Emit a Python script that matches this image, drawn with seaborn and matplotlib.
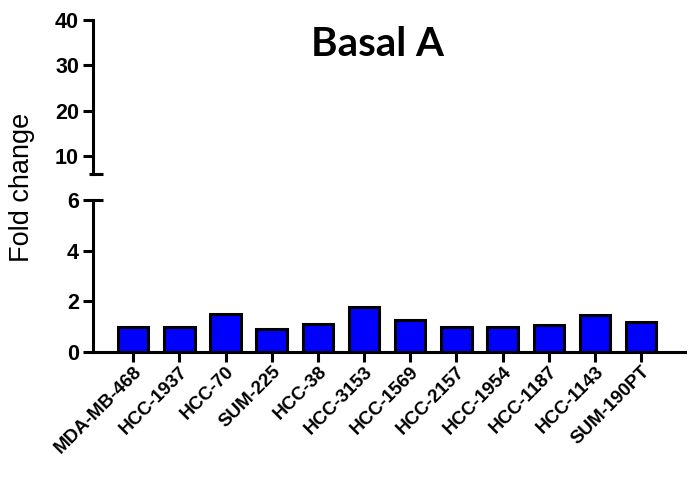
import matplotlib
matplotlib.use("Agg")
import matplotlib.pyplot as plt
import seaborn as sns
import pandas as pd

# cell lines and fold change values
cell_lines = ["MDA-MB-468", "HCC-1937", "HCC-70", "SUM-225", "HCC-38", "HCC-3153",
              "HCC-1569", "HCC-2157", "HCC-1954", "HCC-1187", "HCC-1143", "SUM-190PT"]
fold_change = [1.0, 1.0, 1.5, 0.92, 1.12, 1.78, 1.25, 1.0, 1.0, 1.05, 1.45, 1.18]

upper_ticks = [10, 20, 30, 40]
lower_ticks = [0, 2, 4, 6]

sns.set_style("ticks")
plt.rcParams['font.family'] = ['Liberation Sans', 'DejaVu Sans']
plt.rcParams.update({"text.color": "black", "axes.labelcolor": "black",
                     "xtick.color": "black", "ytick.color": "black"})

df = pd.DataFrame({"cell_line": cell_lines, "fold_change": fold_change})

fig = plt.figure(figsize=(6.93, 4.9), dpi=100)
W, H = 693, 490
left, right = 93 / W, 685 / W
ax_top = fig.add_axes([left, 1 - 174 / H, right - left, (174 - 20) / H])
ax = fig.add_axes([left, 1 - 352 / H, right - left, (352 - 200) / H])

lw = 2.2

# lower panel with the bars
sns.barplot(data=df, x="cell_line", y="fold_change", ax=ax, color="#0000ff",
            saturation=1, width=0.66, edgecolor="black", linewidth=lw)
ax.set_xlim(-0.87, 11.95)
ax.set_ylim(0, 6)
ax.set_yticks(lower_ticks)
ax.set_xlabel("")
ax.set_ylabel("")
ax.set_xticks(range(len(cell_lines)))
ax.set_xticklabels(cell_lines, rotation=45, ha="right", rotation_mode="anchor",
                   fontsize=13.5, fontweight="bold")
for t in ax.get_yticklabels():
    t.set_fontsize(15.5)
    t.set_fontweight("bold")
ax.tick_params(width=lw, length=7, color="black")
ax.tick_params(axis="y", pad=3)
ax.tick_params(axis="x", pad=1)
for s in ["top", "right"]:
    ax.spines[s].set_visible(False)
for s in ["left", "bottom"]:
    ax.spines[s].set_linewidth(lw)
    ax.spines[s].set_color("black")
ax.plot([0, 0.017], [1, 1], transform=ax.transAxes, clip_on=False,
        color="black", lw=lw, solid_capstyle="butt")

# upper panel (empty, broken axis)
ax_top.set_ylim(6, 40)
ax_top.set_yticks(upper_ticks)
ax_top.set_xticks([])
for t in ax_top.get_yticklabels():
    t.set_fontsize(15.5)
    t.set_fontweight("bold")
ax_top.tick_params(width=lw, length=7, color="black", pad=3)
for s in ["top", "right", "bottom"]:
    ax_top.spines[s].set_visible(False)
ax_top.spines["left"].set_linewidth(lw)
ax_top.spines["left"].set_color("black")
ax_top.plot([-0.007, 0.017], [0, 0], transform=ax_top.transAxes, clip_on=False,
            color="black", lw=lw, solid_capstyle="butt")
ax_top.patch.set_alpha(0)

ax_top.text(0.48, 0.84, "Basal A", transform=ax_top.transAxes, ha="center", va="center",
            fontsize=29, fontweight="bold", color="black", family=["Lato", "DejaVu Sans"])

fig.text(22 / W, 1 - 187 / H, "Fold change", rotation=90, ha="center", va="center",
         fontsize=19.5, color="black")

fig.savefig("out.png", dpi=100)
